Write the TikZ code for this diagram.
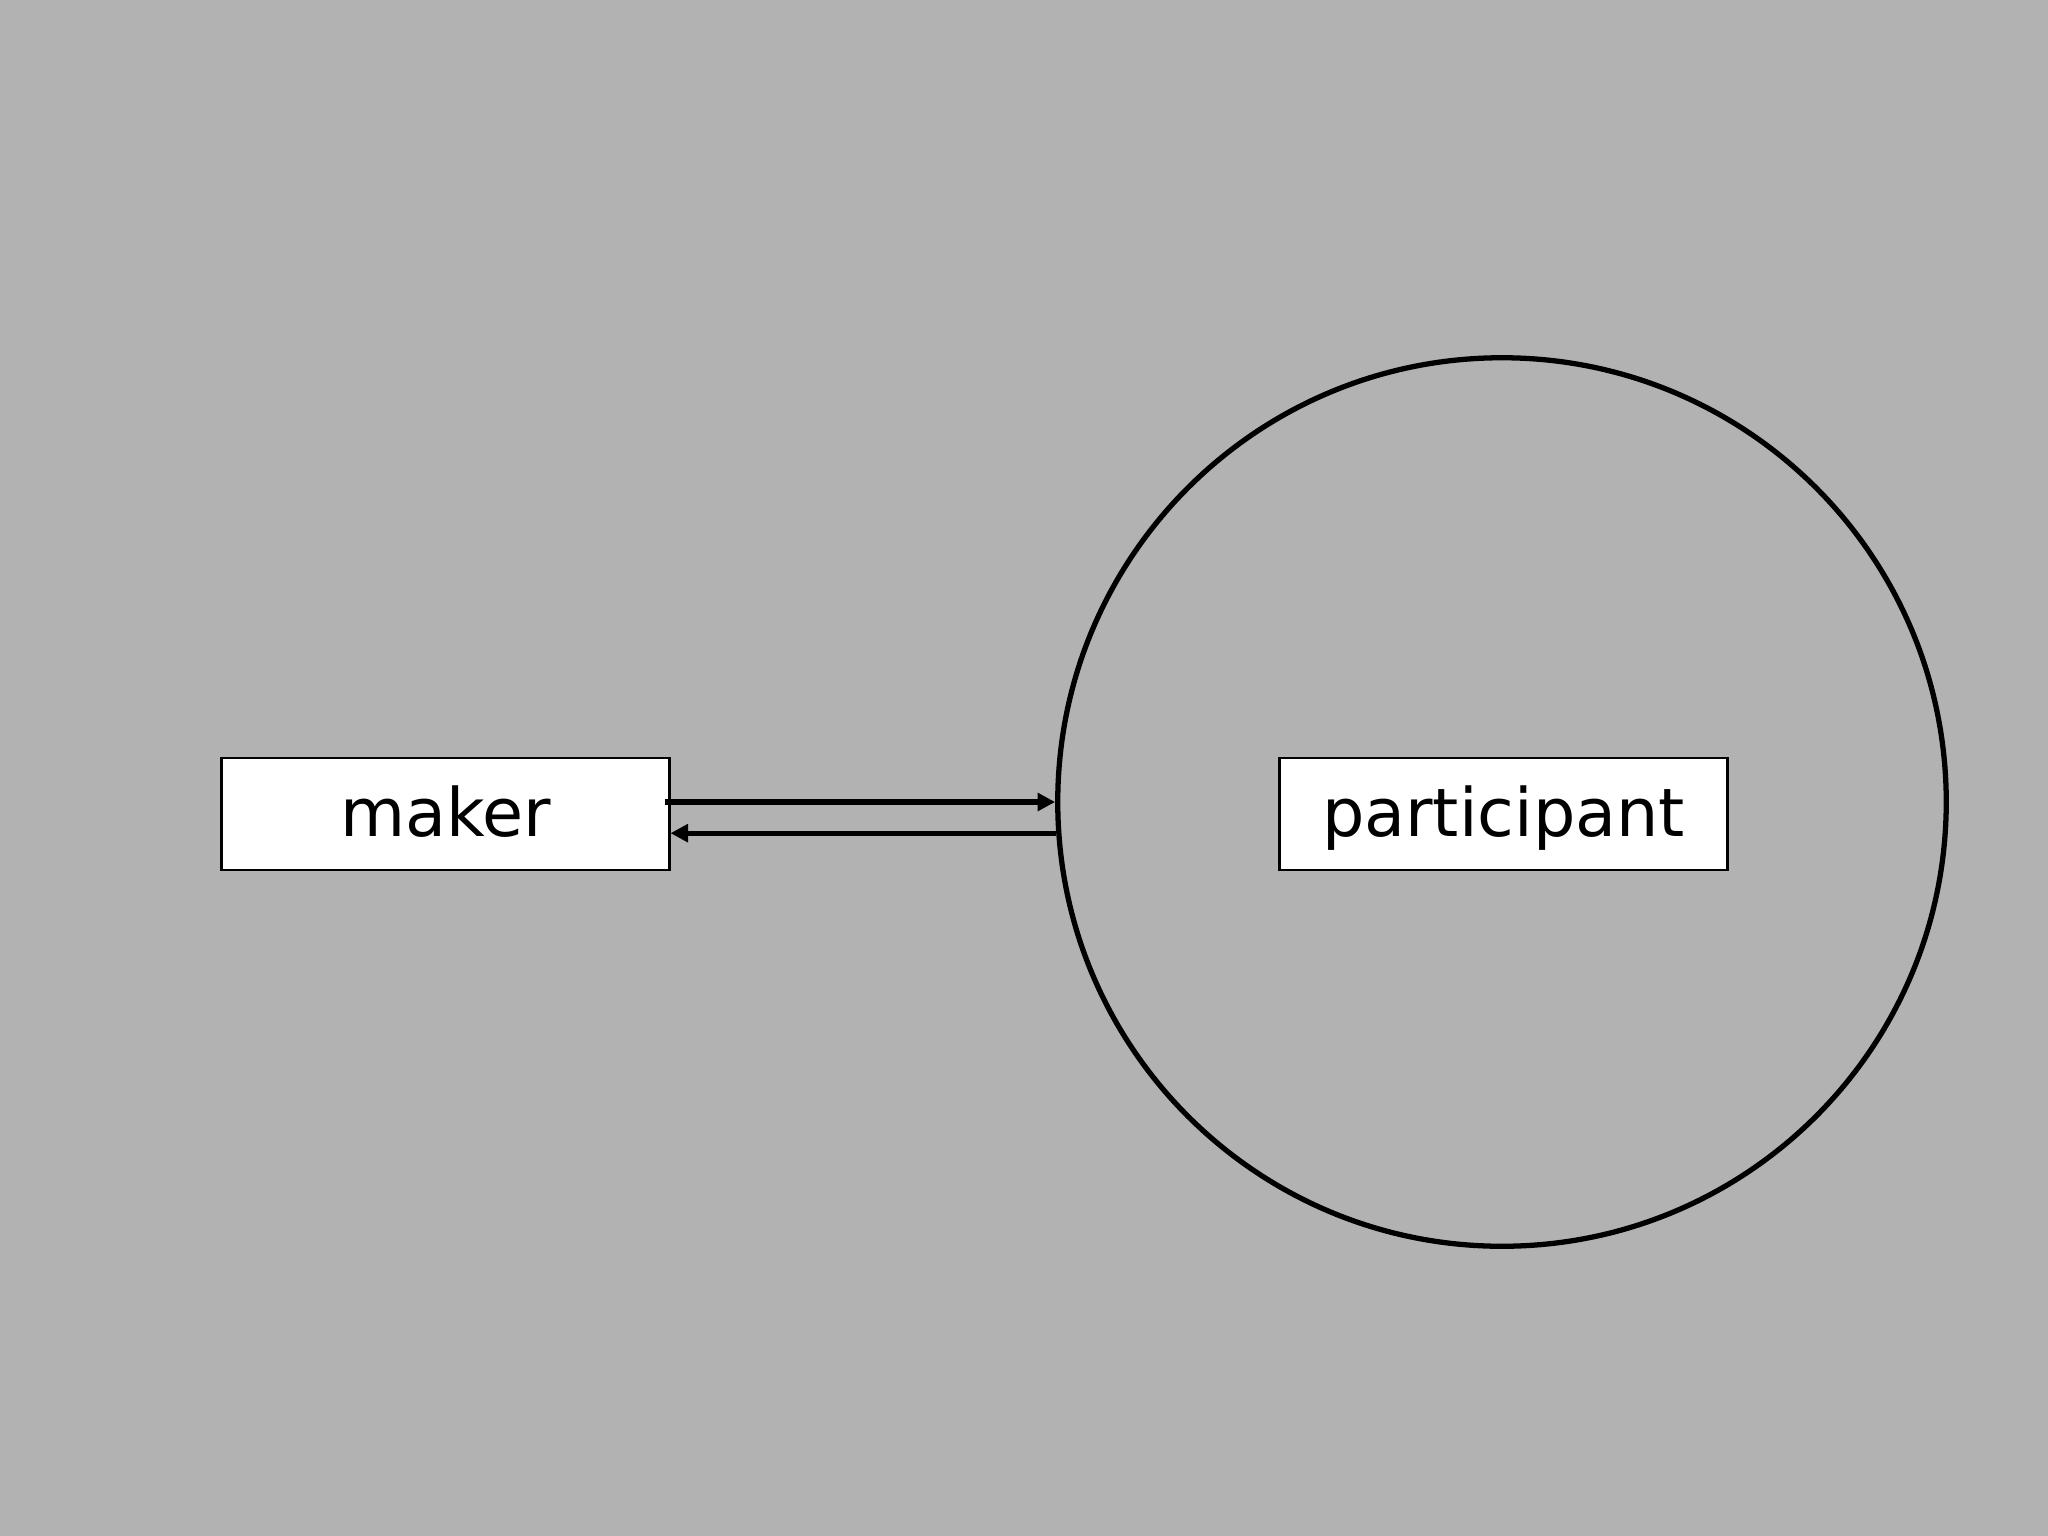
\documentclass[tikz,border=0pt]{standalone}
\usepackage{fontspec}
\setmainfont{DejaVu Sans}
\usepackage{tikz}
\usetikzlibrary{arrows.meta,positioning,calc}
\definecolor{bg}{RGB}{178,178,178}

\begin{document}
\begin{tikzpicture}[x=0.01cm,y=-0.01cm,font=\fontsize{19}{23}\selectfont,
  box/.style={draw,fill=white,line width=0.8pt,minimum width=4.47cm,minimum height=1.12cm,inner sep=0pt,text height=0.54cm,text depth=0.1cm},
  ring/.style={draw,circle,line width=1.5pt,minimum size=8.88cm,inner sep=0pt},
  flow/.style={-{Triangle[length=5pt,width=5pt]},line width=1.5pt}]
  \fill[bg] (0,0) rectangle (2048,1536);
  \useasboundingbox (0,0) rectangle (2048,1536);
  \node[ring] (zone) at (1502,802) {};
  \node[box] (maker) at (445.5,814) {maker};
  \node[box] (participant) at (1503.5,814) {participant};
  \draw[flow] ([xshift=-1.5pt]maker.east |- zone.west) -- (zone.west);
  \draw[flow] (zone.184.85) -- (maker.east |- zone.184.85);
\end{tikzpicture}
\end{document}
